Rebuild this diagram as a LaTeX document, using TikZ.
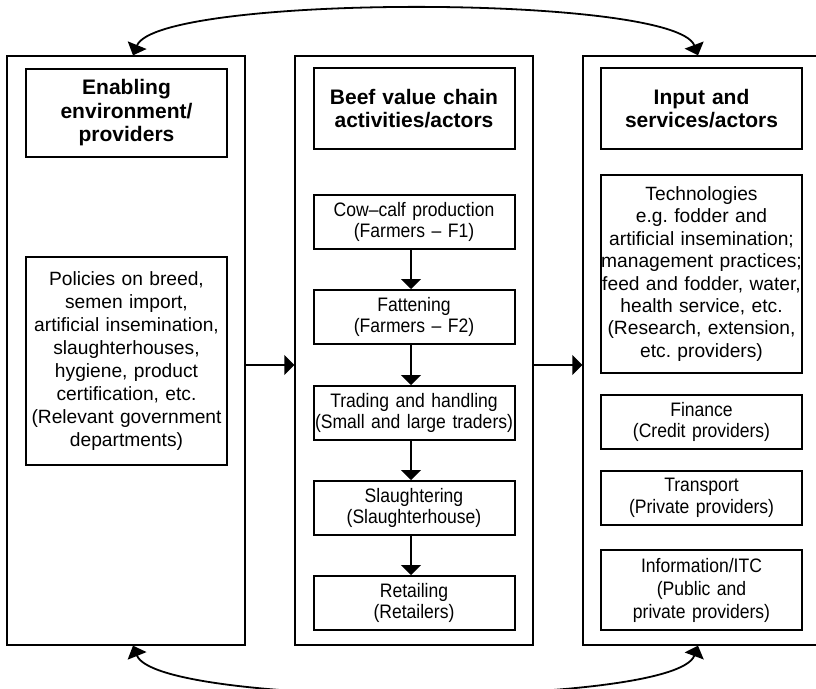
\documentclass[tikz,border=0pt]{standalone}
\usepackage{fontspec}
\setmainfont{Liberation Sans}[FakeStretch=0.9]
\newfontfamily\hdfont{Liberation Sans}
\newfontfamily\widefont{Liberation Sans}
\usetikzlibrary{arrows.meta}
\begin{document}
\frenchspacing
\begin{tikzpicture}[x=1pt,y=-1pt,
  outer/.style={draw, line width=1.3pt, minimum width=238pt, minimum height=589pt, inner sep=0pt},
  box/.style={draw, line width=2pt, minimum width=201pt, inner sep=0pt, text width=201pt, align=center,
    font=\fontsize{19.5}{21.5}\selectfont},
  widebox/.style={box, font=\widefont\fontsize{19.2}{22.4}\selectfont},
  hd/.style={box, font=\hdfont\bfseries\fontsize{21}{23.5}\selectfont},
  arr/.style={line width=1.3pt, -{Triangle[length=10pt,width=20pt]}},
  loopar/.style={line width=1.8pt, {Triangle[length=11pt,width=20pt]}-{Triangle[length=11pt,width=20pt]}}]
\useasboundingbox (0,0) rectangle (816,688);

% outer columns
\node[outer] (L) at (126,350.5) {};
\node[outer] (M) at (414,350.5) {};
\node[outer] (R) at (702,350.5) {};

% headers
\node[hd, minimum height=88pt] (LH) at (126.5,113) {Enabling\\environment/\\providers};
\node[hd, minimum height=81pt] (MH) at (414,108.5) {Beef value chain\\activities/actors};
\node[hd, minimum height=81pt] (RH) at (701.5,108.5) {Input and\\services/actors};

% left content
\node[widebox, minimum height=208pt, font=\widefont\fontsize{19.2}{23}\selectfont] (pol) at (126.5,361)
  {Policies on breed,\\semen import,\\artificial insemination,\\slaughterhouses,\\hygiene, product\\certification, etc.\\(Relevant government\\departments)};

% middle chain
\node[box, minimum height=54pt] (cc) at (414,222) {Cow–calf production\\(Farmers – F1)};
\node[box, minimum height=54pt] (fat) at (414,317) {Fattening\\(Farmers – F2)};
\node[box, minimum height=54pt] (trd) at (414,413) {Trading and handling\\(Small and large traders)};
\node[box, minimum height=54pt] (sla) at (414,508) {Slaughtering\\(Slaughterhouse)};
\node[box, minimum height=54pt] (ret) at (414,603) {Retailing\\(Retailers)};

% right content
\node[widebox, minimum height=198pt] (tech) at (701.5,274)
  {Technologies\\e.g. fodder and\\artificial insemination;\\management practices;\\feed and fodder, water,\\health service, etc.\\(Research, extension,\\etc. providers)};
\node[box, minimum height=54pt] (fin) at (701.5,422) {Finance\\(Credit providers)};
\node[box, minimum height=54pt] (tra) at (701.5,498) {Transport\\(Private providers)};
\node[box, minimum height=80pt, font=\fontsize{19.5}{23}\selectfont] (inf) at (701.5,590) {Information/ITC\\(Public and\\private providers)};

% chain arrows
\draw[arr] ([xshift=-3pt]cc.south) -- ([xshift=-3pt]fat.north);
\draw[arr] ([xshift=-3pt]fat.south) -- ([xshift=-3pt]trd.north);
\draw[arr] ([xshift=-3pt]trd.south) -- ([xshift=-3pt]sla.north);
\draw[arr] ([xshift=-3pt]sla.south) -- ([xshift=-3pt]ret.north);

% horizontal arrows
\coordinate (ay) at (0,365);
\draw[arr] (L.east |- ay) -- (M.west |- ay);
\draw[arr] (M.east |- ay) -- (R.west |- ay);

% loops
\draw[loopar] ([xshift=7pt]L.north) .. controls (158,-6) and (675,-6) .. ([xshift=-4pt]R.north);
\draw[loopar] ([xshift=7pt]L.south) .. controls (158,708) and (675,708) .. ([xshift=-4pt]R.south);
\end{tikzpicture}
\end{document}
